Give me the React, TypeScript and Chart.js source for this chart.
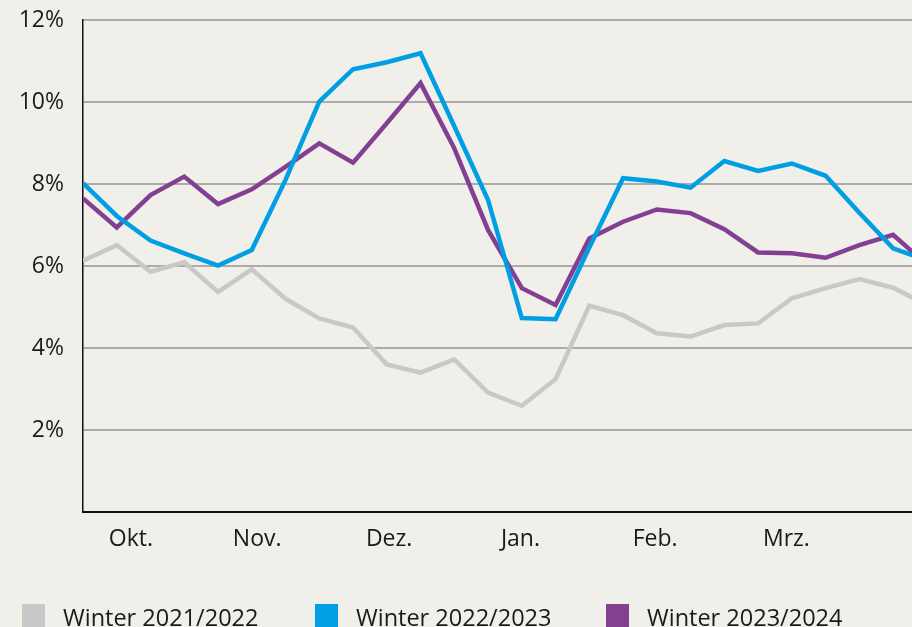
import { useEffect, useRef } from 'react';
import { Chart, registerables } from 'chart.js';

Chart.register(...registerables);

// week index (x position)
const WEEKS = [0, 1, 2, 3, 4, 5, 6, 7, 8, 9, 10, 11, 12, 13, 14, 15, 16, 17, 18, 19, 20, 21, 22, 23, 24, 25];

const WINTER_2122 = [6.13, 6.51, 5.86, 6.09, 5.37, 5.92, 5.2, 4.72, 4.5, 3.6, 3.4, 3.72, 2.91, 2.59, 3.24, 5.03, 4.8, 4.36, 4.28, 4.56, 4.6, 5.21, 5.46, 5.68, 5.47, 5.05];
const WINTER_2223 = [8.02, 7.22, 6.62, 6.31, 6.01, 6.39, 8.1, 10.01, 10.8, 10.97, 11.19, 9.41, 7.61, 4.73, 4.7, 6.45, 8.14, 8.06, 7.91, 8.56, 8.32, 8.5, 8.2, 7.3, 6.43, 6.14];
const WINTER_2324 = [7.65, 6.94, 7.73, 8.18, 7.51, 7.87, 8.42, 8.99, 8.52, 9.48, 10.46, 8.87, 6.88, 5.46, 5.05, 6.67, 7.08, 7.38, 7.29, 6.9, 6.33, 6.31, 6.2, 6.51, 6.76, 6.03];

const SERIES_LABELS = ['Winter 2021/2022', 'Winter 2022/2023', 'Winter 2023/2024'];
const SERIES_COLORS = ['#c8c8c8', '#009fe3', '#833f91'];

const MONTH_LABELS = ['Okt.', 'Nov.', 'Dez.', 'Jan.', 'Feb.', 'Mrz.'];
const MONTH_POS = [1.42, 5.16, 9.07, 12.96, 16.95, 20.84];

const Y_TICKS = [0, 2, 4, 6, 8, 10, 12];

const X_MAX = 24.56;
const FONT = '"Open Sans", sans-serif';
const BG = '#f0efea';

const LEGEND_X = [22, 315, 606];

export default function App() {
  const ref = useRef<HTMLCanvasElement | null>(null);

  useEffect(() => {
    if (!ref.current) return;
    const series = [WINTER_2122, WINTER_2223, WINTER_2324];
    const bgPlugin = {
      id: 'bg',
      beforeDraw(chart: any) {
        const { ctx, width, height } = chart;
        ctx.save();
        ctx.fillStyle = BG;
        ctx.fillRect(0, 0, width, height);
        ctx.restore();
      },
    };
    const legendPlugin = {
      id: 'customLegend',
      afterDraw(chart: any) {
        const { ctx } = chart;
        ctx.save();
        chart.data.datasets.forEach((ds: any, i: number) => {
          const x = LEGEND_X[i];
          ctx.fillStyle = ds.borderColor;
          ctx.fillRect(x, 604, 23, 24);
          ctx.fillStyle = '#1a1a1a';
          ctx.font = `400 23.5px ${FONT}`;
          ctx.textBaseline = 'alphabetic';
          ctx.textAlign = 'left';
          ctx.fillText(ds.label, x + 41, 626);
        });
        ctx.restore();
      },
    };
    const chart = new Chart(ref.current, {
      type: 'line',
      data: {
        datasets: series.map((vals, i) => ({
          label: SERIES_LABELS[i],
          data: vals.map((v, k) => ({ x: WEEKS[k], y: v })),
          borderColor: SERIES_COLORS[i],
          backgroundColor: SERIES_COLORS[i],
          borderWidth: 4.5,
          pointRadius: 0,
          tension: 0,
          borderJoinStyle: 'miter' as const,
          order: i === 0 ? 3 : i === 1 ? 1 : 2,
        })),
      },
      options: {
        animation: false,
        responsive: true,
        maintainAspectRatio: false,
        layout: { padding: { top: 20, right: 0, left: 0, bottom: 0 } },
        plugins: {
          legend: { display: false },
          tooltip: { enabled: false },
        },
        scales: {
          x: {
            type: 'linear',
            min: 0,
            max: X_MAX,
            afterFit(scale: any) {
              scale.height = 115;
              scale.paddingLeft = 0;
              scale.paddingRight = 0;
            },
            afterBuildTicks(scale: any) {
              scale.ticks = MONTH_POS.map((v) => ({ value: v }));
            },
            grid: { display: false },
            border: { display: true, color: '#111111', width: 2 },
            ticks: {
              autoSkip: false,
              maxRotation: 0,
              padding: 6,
              color: '#1a1a1a',
              font: { family: FONT, size: 23, weight: 400 as any },
              callback: (_v: any, i: number) => MONTH_LABELS[i],
            },
          },
          y: {
            min: 0,
            max: 12,
            afterFit(scale: any) {
              scale.width = 83;
              scale.paddingTop = 0;
              scale.paddingBottom = 0;
            },
            afterBuildTicks(scale: any) {
              scale.ticks = Y_TICKS.map((v) => ({ value: v }));
            },
            grid: {
              drawTicks: false,
              color: (c: any) => (c.tick && c.tick.value === 0 ? 'rgba(0,0,0,0)' : '#ababab'),
              lineWidth: 2,
            },
            border: { display: true, color: '#111111', width: 1.5 },
            ticks: {
              padding: 19,
              color: '#1a1a1a',
              font: { family: FONT, size: 23, weight: 400 as any },
              callback: (v: any) => (v === 0 ? '' : `${v}%`),
            },
          },
        },
      },
      plugins: [bgPlugin, legendPlugin],
    });
    return () => chart.destroy();
  }, []);

  return (
    <div style={{ position: 'fixed', left: 0, top: 0, width: 912, height: 627, background: BG }}>
      <canvas ref={ref} />
    </div>
  );
}
